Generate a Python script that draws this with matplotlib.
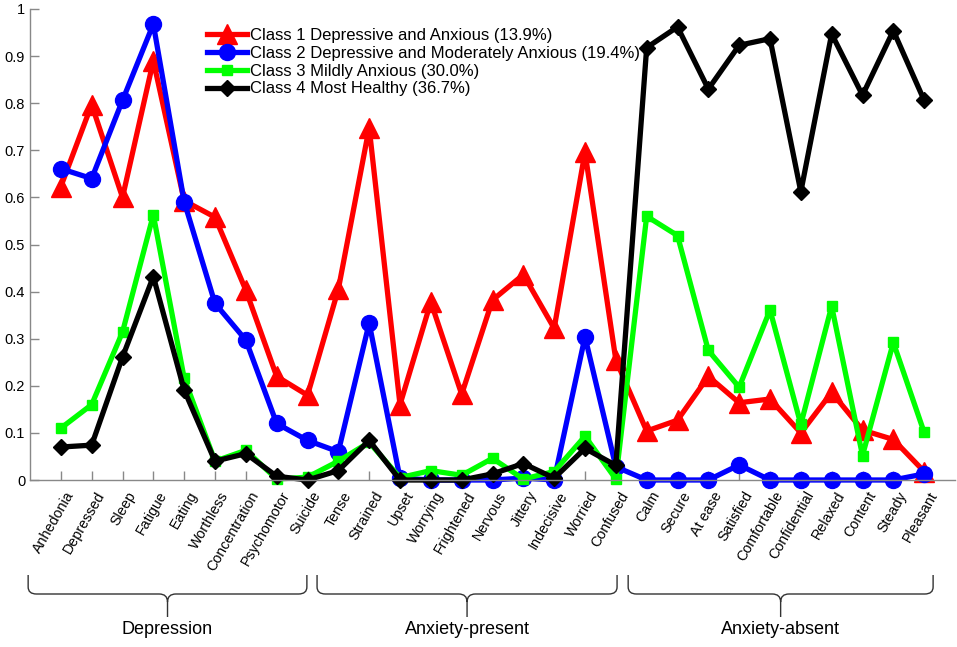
import numpy as np
import matplotlib
matplotlib.use("Agg")
import matplotlib.pyplot as plt
from matplotlib.path import Path
from matplotlib.patches import PathPatch
from matplotlib.transforms import blended_transform_factory, offset_copy

items = [
    "Anhedonia", "Depressed", "Sleep", "Fatigue", "Eating", "Worthless",
    "Concentration", "Psychomotor", "Suicide", "Tense", "Strained", "Upset",
    "Worrying", "Frightened", "Nervous", "Jittery", "Indecisive", "Worried",
    "Confused", "Calm", "Secure", "At ease", "Satisfied", "Comfortable",
    "Confidential", "Relaxed", "Content", "Steady", "Pleasant",
]

class1 = [0.623, 0.797, 0.600, 0.890, 0.593, 0.558, 0.403, 0.220, 0.180,
          0.405, 0.748, 0.160, 0.378, 0.182, 0.382, 0.436, 0.322, 0.696,
          0.255, 0.104, 0.127, 0.220, 0.164, 0.172, 0.100, 0.186, 0.106,
          0.086, 0.018]
class2 = [0.661, 0.640, 0.806, 0.968, 0.591, 0.375, 0.297, 0.120, 0.084,
          0.060, 0.333, 0.004, 0.000, 0.000, 0.000, 0.004, 0.000, 0.304,
          0.028, 0.000, 0.000, 0.000, 0.032, 0.000, 0.000, 0.000, 0.000,
          0.000, 0.013]
class3 = [0.110, 0.160, 0.314, 0.563, 0.216, 0.040, 0.063, 0.002, 0.006,
          0.040, 0.080, 0.005, 0.020, 0.010, 0.046, 0.002, 0.018, 0.093,
          0.002, 0.560, 0.519, 0.275, 0.197, 0.361, 0.118, 0.369, 0.052,
          0.292, 0.101]
class4 = [0.070, 0.074, 0.261, 0.432, 0.191, 0.040, 0.056, 0.008, 0.000,
          0.020, 0.084, 0.000, 0.000, 0.000, 0.013, 0.035, 0.004, 0.067,
          0.031, 0.918, 0.962, 0.830, 0.923, 0.937, 0.612, 0.947, 0.817,
          0.954, 0.806]

legend_labels = [
    "Class 1 Depressive and Anxious (13.9%)",
    "Class 2 Depressive and Moderately Anxious (19.4%)",
    "Class 3 Mildly Anxious (30.0%)",
    "Class 4 Most Healthy (36.7%)",
]

groups = ["Depression", "Anxiety-present", "Anxiety-absent"]
group_spans = [(-0.06, 8.98), (9.31, 19.04), (19.4, 29.29)]

plt.rcParams["font.family"] = ["Liberation Sans", "DejaVu Sans"]

W, H = 957, 647
fig = plt.figure(figsize=(W / 100, H / 100), dpi=100, facecolor="white")
ax = fig.add_axes([30 / W, 1 - 480 / H, 925 / W, 471 / H])

x = np.arange(1, len(items) + 1)
styles = [
    (class1, "#ff0000", "^", 14),
    (class2, "#0000ff", "o", 11.5),
    (class3, "#00ff00", "s", 7),
    (class4, "#000000", "D", 8),
]
for (vals, col, mk, ms), lab in zip(styles, legend_labels):
    ax.plot(x, vals, color=col, linewidth=3.8, marker=mk, markersize=ms,
            markerfacecolor=col, markeredgecolor=col, label=lab, clip_on=False)

ax.set_xlim(0, len(items) + 1)
ax.set_ylim(0, 1)
ax.set_xticks(x)
ax.set_xticklabels([])
yt = np.round(np.arange(0, 1.01, 0.1), 1)
ax.set_yticks(yt)
ax.set_yticklabels(["0" if v == 0 else ("1" if v == 1 else f"{v:g}") for v in yt],
                   fontsize=10.5)
for s in ["top", "right"]:
    ax.spines[s].set_visible(False)
for s in ["left", "bottom"]:
    ax.spines[s].set_color("#888888")
    ax.spines[s].set_linewidth(1.0)
ax.tick_params(direction="in", length=6.5, color="#888888", width=1.0)

# rotated item labels
lab_tr = offset_copy(ax.transData, fig=fig, x=4, y=-9, units="dots")
for xi, name in zip(x, items):
    ax.text(xi, 0, name, transform=lab_tr, rotation=60, rotation_mode="anchor",
            ha="right", va="top", fontsize=10.3)

leg = ax.legend(loc="upper left", bbox_to_anchor=(207 / W, 1 - 28 / H),
                bbox_transform=fig.transFigure, frameon=False, fontsize=12,
                handlelength=2.4, handletextpad=0.2, labelspacing=0.17,
                borderaxespad=0, borderpad=0)

# curly braces under the groups
tr = blended_transform_factory(ax.transData, fig.transFigure)
r = 0.27
def fy(py):
    return 1 - py / H

for (x0, x1), name in zip(group_spans, groups):
    xc = (x0 + x1) / 2
    verts = [
        (x0, fy(575)), (x0, fy(587)),
        (x0, fy(594)), (x0 + r, fy(594)),
        (xc - r, fy(594)),
        (xc, fy(594)), (xc, fy(602)),
        (xc, fy(617)),
        (xc, fy(602)), (xc, fy(594)), (xc + r, fy(594)),
        (x1 - r, fy(594)),
        (x1, fy(594)), (x1, fy(587)),
        (x1, fy(575)),
    ]
    codes = [Path.MOVETO, Path.LINETO,
             Path.CURVE3, Path.CURVE3,
             Path.LINETO,
             Path.CURVE3, Path.CURVE3,
             Path.LINETO,
             Path.MOVETO, Path.CURVE3, Path.CURVE3,
             Path.LINETO,
             Path.CURVE3, Path.CURVE3,
             Path.LINETO]
    patch = PathPatch(Path(verts, codes), transform=tr, fill=False,
                      edgecolor="#333333", linewidth=1.0, clip_on=False)
    fig.add_artist(patch)
    fig.text(xc, fy(630), name, transform=tr, ha="center", va="center",
             fontsize=13)

fig.savefig("out.png", dpi=100, facecolor="white")
